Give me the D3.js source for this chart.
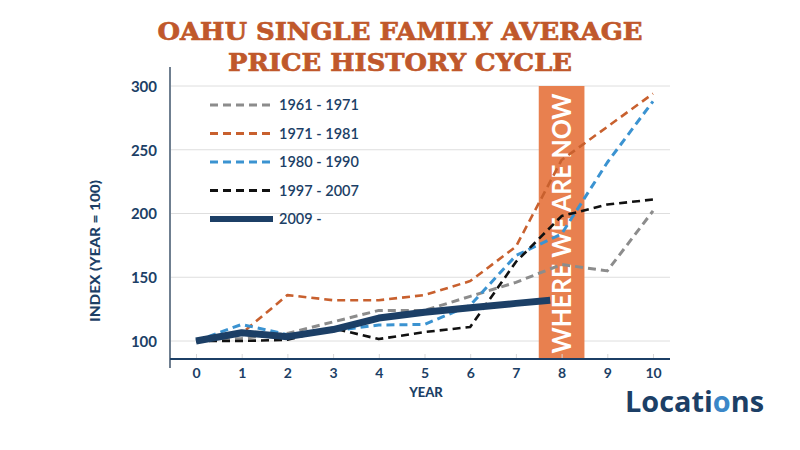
<!DOCTYPE html>
<html>
<head>
<meta charset="utf-8">
<script src="https://cdn.jsdelivr.net/npm/d3@7"></script>
<style>
  html, body { margin: 0; padding: 0; background: #ffffff; }
  svg { display: block; }
</style>
</head>
<body>
<svg id="chart" width="800" height="450"></svg>
<script>
// ---------- data ----------
const years = [0, 1, 2, 3, 4, 5, 6, 7, 8, 9, 10];
const s1961 = [100, 102, 106, 115, 124, 124, 135, 146, 160, 155, 202];
const s1971 = [100, 106, 136, 132, 132, 136, 147, 174, 242, 268, 294];
const s1980 = [100, 113, 105, 108, 112.5, 113, 128, 167, 184, 240, 288];
const s1997 = [100, 100, 101, 110, 101.5, 107, 111, 162, 198, 207, 211];
const years2009 = [0, 1, 2, 3, 4, 5, 6, 7, 7.75];
const s2009 = [100, 106.5, 103.4, 109, 118, 122.5, 126, 129.5, 132];
const yTicks = [100, 150, 200, 250, 300];
const legendLabels = ["1961 - 1971", "1971 - 1981", "1980 - 1990", "1997 - 2007", "2009 -"];
const bandYears = [7.5, 8.5];
const bandLabel = "WHERE WE ARE NOW";
const titleLines = ["OAHU SINGLE FAMILY AVERAGE", "PRICE HISTORY CYCLE"];

const NAVY = "#1c3f66";
const series = [
  {name: legendLabels[0], x: years, y: s1961, color: "#8c8c8c", width: 3, dash: "8,5"},
  {name: legendLabels[1], x: years, y: s1971, color: "#c8602e", width: 2.6, dash: "8,5"},
  {name: legendLabels[2], x: years, y: s1980, color: "#3b93d1", width: 3, dash: "8,5"},
  {name: legendLabels[3], x: years, y: s1997, color: "#111111", width: 2.6, dash: "8,5"},
  {name: legendLabels[4], x: years2009, y: s2009, color: NAVY, width: 7, dash: null}
];

const svg = d3.select("#chart");
const x = d3.scaleLinear().domain([0, 10]).range([196, 653]);
const y = d3.scaleLinear().domain([100, 300]).range([341, 86]);
const plotLeft = 170, plotRight = 670, axisY = 359;

// title
svg.selectAll("text.title").data(titleLines).join("text")
  .attr("class", "title")
  .attr("x", 400)
  .attr("y", (d, i) => 40 + i * 31)
  .attr("text-anchor", "middle")
  .attr("font-family", "'DejaVu Serif', serif")
  .attr("font-weight", "bold")
  .attr("font-size", 24)
  .attr("fill", "#c0582b")
  .attr("stroke", "#c0582b")
  .attr("stroke-width", 0.7)
  .attr("textLength", (d, i) => i === 0 ? 485 : 344)
  .attr("lengthAdjust", "spacingAndGlyphs")
  .text(d => d);

// gridlines
svg.append("g").selectAll("line").data(yTicks).join("line")
  .attr("x1", plotLeft).attr("x2", plotRight)
  .attr("y1", d => y(d)).attr("y2", d => y(d))
  .attr("stroke", "#dedede").attr("stroke-width", 1);

// band
svg.append("rect")
  .attr("x", x(bandYears[0]))
  .attr("width", x(bandYears[1]) - x(bandYears[0]))
  .attr("y", y(300))
  .attr("height", axisY - y(300))
  .attr("fill", "#e8804f");

const bandCx = x((bandYears[0] + bandYears[1]) / 2);
svg.append("text")
  .attr("transform", `translate(${bandCx + 9},${(y(300) + axisY) / 2 + 1}) rotate(-90)`)
  .attr("text-anchor", "middle")
  .attr("font-family", "Lato, 'Open Sans', sans-serif")
  .attr("font-weight", "bold")
  .attr("font-size", 27)
  .attr("fill", "#ffffff")
  .attr("textLength", 260)
  .attr("lengthAdjust", "spacingAndGlyphs")
  .text(bandLabel);

// x axis
const xAxis = d3.axisBottom(x).tickValues(years).tickSize(0).tickPadding(0).tickFormat(d3.format("d"));
const gx = svg.append("g").attr("transform", `translate(0,${axisY})`).call(xAxis);
gx.select(".domain").remove();
gx.selectAll(".tick line").remove();
gx.selectAll(".tick").append("line")
  .attr("y1", -5).attr("y2", 0)
  .attr("stroke", "#d8d8d8").attr("stroke-width", 1);
gx.selectAll(".tick text")
  .attr("y", 19)
  .attr("dy", 0)
  .attr("font-family", "Lato, 'Open Sans', sans-serif")
  .attr("font-weight", "bold")
  .attr("font-size", 14)
  .attr("fill", NAVY);

// y axis labels
const yAxis = d3.axisLeft(y).tickValues(yTicks).tickSize(0).tickPadding(0);
const gy = svg.append("g").attr("transform", `translate(157,0)`).call(yAxis);
gy.select(".domain").remove();
gy.selectAll(".tick text")
  .attr("x", 0)
  .attr("dy", "0.35em")
  .attr("font-family", "Lato, 'Open Sans', sans-serif")
  .attr("font-weight", "bold")
  .attr("font-size", 15)
  .attr("fill", NAVY);

// axis lines
svg.append("line")
  .attr("x1", plotLeft).attr("x2", plotLeft)
  .attr("y1", 67).attr("y2", 368)
  .attr("stroke", "#6f7f90").attr("stroke-width", 2);
svg.append("line")
  .attr("x1", plotLeft).attr("x2", plotRight)
  .attr("y1", axisY).attr("y2", axisY)
  .attr("stroke", NAVY).attr("stroke-width", 2);

// axis titles
svg.append("text")
  .attr("transform", `translate(100,251) rotate(-90)`)
  .attr("text-anchor", "middle")
  .attr("font-family", "Lato, 'Open Sans', sans-serif")
  .attr("font-weight", "900")
  .attr("font-size", 13)
  .attr("fill", NAVY)
  .attr("textLength", 142)
  .attr("lengthAdjust", "spacingAndGlyphs")
  .text("INDEX (YEAR = 100)");
svg.append("text")
  .attr("x", 426).attr("y", 397)
  .attr("text-anchor", "middle")
  .attr("font-family", "Lato, 'Open Sans', sans-serif")
  .attr("font-weight", "900")
  .attr("font-size", 13)
  .attr("fill", NAVY)
  .text("YEAR");

// lines
const line = d3.line();
svg.append("g").selectAll("path").data(series).join("path")
  .attr("d", s => line(s.x.map((xv, i) => [x(xv), y(s.y[i])])))
  .attr("fill", "none")
  .attr("stroke", s => s.color)
  .attr("stroke-width", s => s.width)
  .attr("stroke-dasharray", s => s.dash)
  .attr("stroke-linejoin", "round");

// legend
const lg = svg.append("g").selectAll("g").data(series).join("g")
  .attr("transform", (s, i) => `translate(0,${105 + i * 28.5})`);
lg.append("line")
  .attr("x1", 210).attr("x2", 273)
  .attr("stroke", s => s.color)
  .attr("stroke-width", s => s.dash ? 3 : 6)
  .attr("stroke-dasharray", s => s.dash);
lg.append("text")
  .attr("x", 279).attr("y", 0)
  .attr("dy", "0.35em")
  .attr("font-family", "Lato, 'Open Sans', sans-serif")
  .attr("font-weight", 600)
  .attr("font-size", 14.5)
  .attr("fill", NAVY)
  .text(s => s.name);

// logo
const logo = svg.append("text")
  .attr("x", 625).attr("y", 412)
  .attr("font-family", "'Open Sans', Lato, sans-serif")
  .attr("font-weight", "bold")
  .attr("font-size", 28)
  .attr("fill", NAVY)
  .attr("textLength", 139)
  .attr("lengthAdjust", "spacingAndGlyphs");
logo.append("tspan").text("Locati");
logo.append("tspan").attr("fill", "#3b87c8").text("o");
logo.append("tspan").text("ns");
</script>
</body>
</html>
